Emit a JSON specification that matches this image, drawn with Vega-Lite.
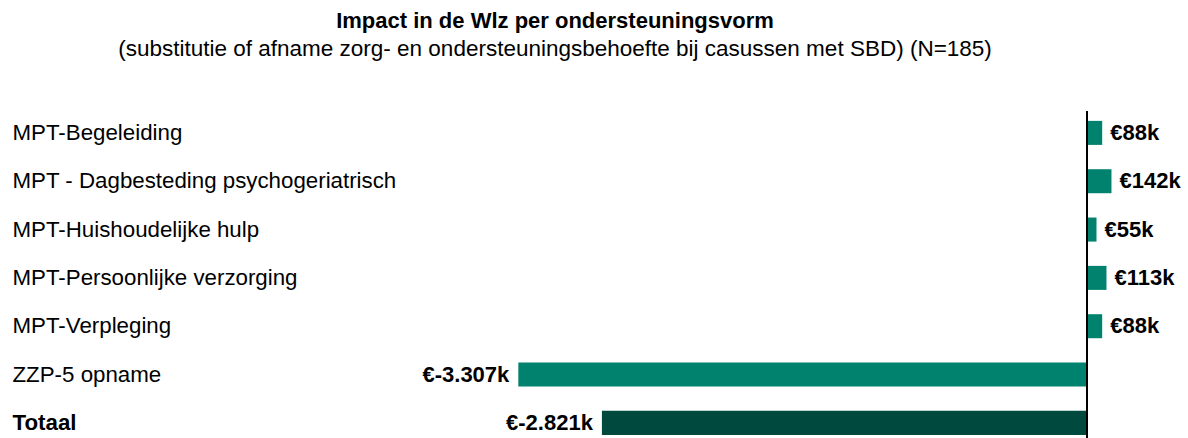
{
  "$schema": "https://vega.github.io/schema/vega-lite/v6.json",
  "autosize": {"type": "none"},
  "width": 1188,
  "height": 327,
  "padding": {"left": 0, "top": 111, "right": 0, "bottom": 0},
  "background": "white",
  "config": {"view": {"stroke": null}, "font": "Liberation Sans"},
  "title": {
    "text": "Impact in de Wlz per ondersteuningsvorm",
    "subtitle": "(substitutie of afname zorg- en ondersteuningsbehoefte bij casussen met SBD) (N=185)",
    "anchor": "middle",
    "frame": "group",
    "dx": -39,
    "offset": 49,
    "font": "Liberation Sans",
    "fontSize": 22,
    "fontWeight": "bold",
    "color": "#000000",
    "subtitleFont": "Liberation Sans",
    "subtitleFontSize": 22.5,
    "subtitleColor": "#000000",
    "subtitlePadding": 5
  },
  "data": {
    "values": [
      {"categorie": "MPT-Begeleiding", "waarde": 88, "label": "€88k", "soort": "vorm"},
      {"categorie": "MPT - Dagbesteding psychogeriatrisch", "waarde": 142, "label": "€142k", "soort": "vorm"},
      {"categorie": "MPT-Huishoudelijke hulp", "waarde": 55, "label": "€55k", "soort": "vorm"},
      {"categorie": "MPT-Persoonlijke verzorging", "waarde": 113, "label": "€113k", "soort": "vorm"},
      {"categorie": "MPT-Verpleging", "waarde": 88, "label": "€88k", "soort": "vorm"},
      {"categorie": "ZZP-5 opname", "waarde": -3307, "label": "€-3.307k", "soort": "vorm"},
      {"categorie": "Totaal", "waarde": -2821, "label": "€-2.821k", "soort": "totaal"}
    ]
  },
  "encoding": {
    "y": {
      "field": "categorie",
      "type": "nominal",
      "sort": null,
      "scale": {"paddingInner": 0.503, "paddingOuter": 0.1345, "align": 0.76},
      "axis": {
        "title": null,
        "domain": false,
        "ticks": false,
        "labelAlign": "left",
        "labelPadding": -12,
        "labelLimit": 600,
        "labelFont": "Liberation Sans",
        "labelFontSize": 22.3,
        "labelColor": "#000000",
        "labelFontWeight": {"condition": {"test": "datum.value === 'Totaal'", "value": "bold"}, "value": "normal"}
      }
    },
    "x": {
      "field": "waarde",
      "type": "quantitative",
      "scale": {"domain": [-6321, 587], "nice": false, "zero": false},
      "axis": null
    }
  },
  "layer": [
    {
      "mark": {"type": "bar", "cornerRadius": 0},
      "encoding": {
        "x2": {"datum": 0},
        "color": {
          "field": "soort",
          "type": "nominal",
          "scale": {"domain": ["vorm", "totaal"], "range": ["#00826E", "#00493F"]},
          "legend": null
        }
      }
    },
    {
      "mark": {"type": "rule", "color": "#000000", "strokeWidth": 1.2},
      "encoding": {"x": {"datum": 0}, "y": {"value": 0}, "y2": {"value": 327}}
    },
    {
      "transform": [{"filter": "datum.waarde > 0"}],
      "mark": {"type": "text", "align": "left", "baseline": "middle", "dx": 8, "fontSize": 22, "fontWeight": "bold", "font": "Liberation Sans", "color": "#000000"},
      "encoding": {"text": {"field": "label"}}
    },
    {
      "transform": [{"filter": "datum.waarde < 0"}],
      "mark": {"type": "text", "align": "right", "baseline": "middle", "dx": -9, "fontSize": 22, "fontWeight": "bold", "font": "Liberation Sans", "color": "#000000"},
      "encoding": {"text": {"field": "label"}}
    }
  ]
}
